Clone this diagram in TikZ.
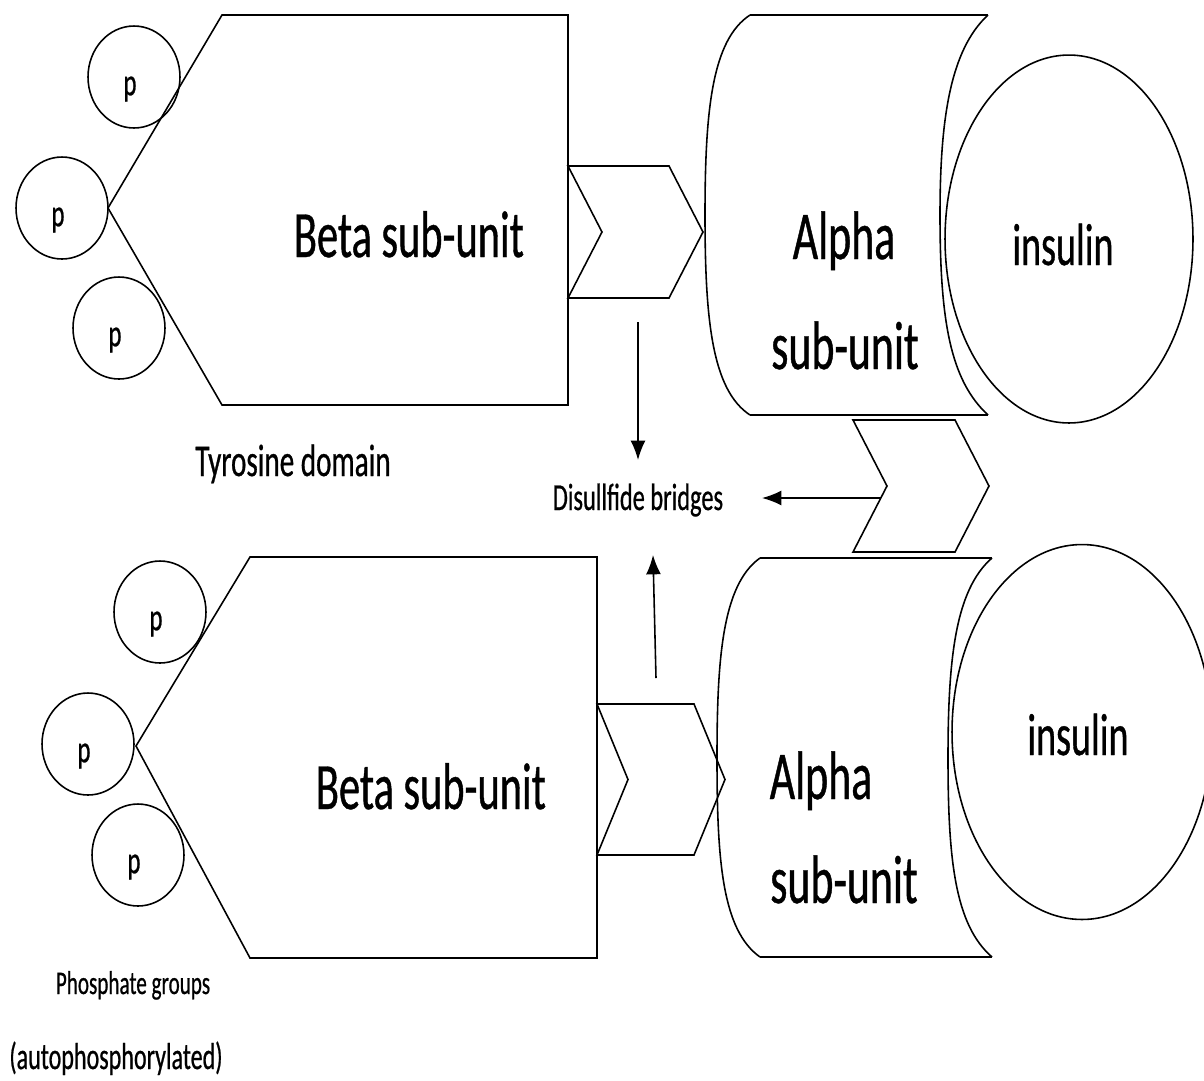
\documentclass[tikz,border=0pt]{standalone}
\usepackage{fontspec}
\setmainfont{Carlito}[FakeStretch=0.64,FakeBold=0.6]
\usetikzlibrary{arrows.meta,positioning,shapes.geometric}
\newcommand{\Fsize}[1]{\fontsize{#1}{#1}\selectfont}
\newcommand{\Phos}[2]% pos, name
{\node[pgroup] (#2) at (#1) {};
  \node[ptext] at ([shift={(-4,12)}]#2.center) {p};
}
\newcommand{\Chevron}[4]% top-left, width, height, depth
{\draw (#1) -- ++(#2,0) -- ++(#4,#3/2) -- ++(-#4,#3/2) -- ++(-#2,0)
    -- ++(#4,-#3/2) -- cycle;
}
\newcommand{\Arrow}[2]%
{\draw[-{Latex[length=11pt,width=8.5pt]}] (#1) -- (#2);
}

\begin{document}
\begin{tikzpicture}[x=0.02cm,y=-0.02cm,line width=0.9pt,
    pgroup/.style={ellipse,draw,minimum width=1.84cm,minimum height=2.04cm,
      inner sep=0pt},
    ptext/.style={inner sep=0pt,font=\Fsize{22}},
    label/.style={anchor=base,inner sep=1pt}]
  \useasboundingbox (0,0) rectangle (1204,1080);

  % beta sub-units
  \draw (222,15) -- (568,15) -- (568,405) -- (222,405) -- (108,208) -- cycle;
  \draw (250,557) -- (597,557) -- (597,958) -- (250,958) -- (136,746) -- cycle;

  % alpha sub-units
  \draw (750,15) -- (988,15) (750,415) -- (988,415);
  \draw (750,15) .. controls (712,40) and (705,110) .. (705,215)
    .. controls (705,320) and (712,390) .. (750,415);
  \draw (988,15) .. controls (950,50) and (940,120) .. (940,215)
    .. controls (940,320) and (950,380) .. (988,415);
  \draw (760,558) -- (992,558) (760,957) -- (992,957);
  \draw (760,558) .. controls (722,585) and (717,660) .. (717,758)
    .. controls (717,860) and (722,930) .. (760,957);
  \draw (992,558) .. controls (955,590) and (948,660) .. (948,758)
    .. controls (948,860) and (955,925) .. (992,957);

  % insulin
  \node[ellipse,draw,minimum width=4.96cm,minimum height=7.36cm,inner sep=0pt]
    (ins1) at (1069,239) {};
  \node[ellipse,draw,minimum width=5.2cm,minimum height=7.5cm,inner sep=0pt]
    (ins2) at (1082,732) {};

  % disulfide bridges
  \Chevron{568,166}{101}{132}{34}
  \Chevron{597,704}{97}{151}{31}
  \Chevron{853,420}{102}{132}{34}

  % phosphate groups
  \Phos{134,77}{p1}
  \Phos{62,208}{p2}
  \Phos{119,328}{p3}
  \Phos{160,612}{p4}
  \Phos{88,744}{p5}
  \Phos{138,855}{p6}

  % labels
  \node[label,font=\Fsize{37.7}] (beta1) at (409,257) {Beta sub-unit};
  \node[label,font=\Fsize{37.7}] (beta2) at (431,809) {Beta sub-unit};
  \node[label,font=\Fsize{39}] (alpha1) at (844,259) {Alpha};
  \node[label,font=\Fsize{39}] (sub1) at (845,369) {sub-unit};
  \node[label,font=\Fsize{39}] (alpha2) at (821,799) {Alpha};
  \node[label,font=\Fsize{39}] (sub2) at (844,903) {sub-unit};
  \node[label,font=\Fsize{33.9}] (insl1) at (1063,265) {insulin};
  \node[label,font=\Fsize{33.9}] (insl2) at (1078,755) {insulin};
  \node[label,font=\Fsize{25.9}] (tyro) at (293,476) {Tyrosine domain};
  \node[label,font=\Fsize{21.7}] (bridges) at (638,510) {Disullfide bridges};
  \node[label,font=\Fsize{18.8}] (phos) at (133,994) {Phosphate groups};
  \node[label,font=\Fsize{21.4}] (auto) at (116,1069) {(autophosphorylated)};

  % arrows
  \coordinate (a1) at (638,322);
  \coordinate (a1e) at (638,460);
  \coordinate (a2) at (881,498);
  \coordinate (a2e) at (762,498);
  \coordinate (a3) at (656,678);
  \coordinate (a3e) at (653,555);
  \Arrow{a1}{a1e}
  \Arrow{a2}{a2e}
  \Arrow{a3}{a3e}
\end{tikzpicture}
\end{document}
